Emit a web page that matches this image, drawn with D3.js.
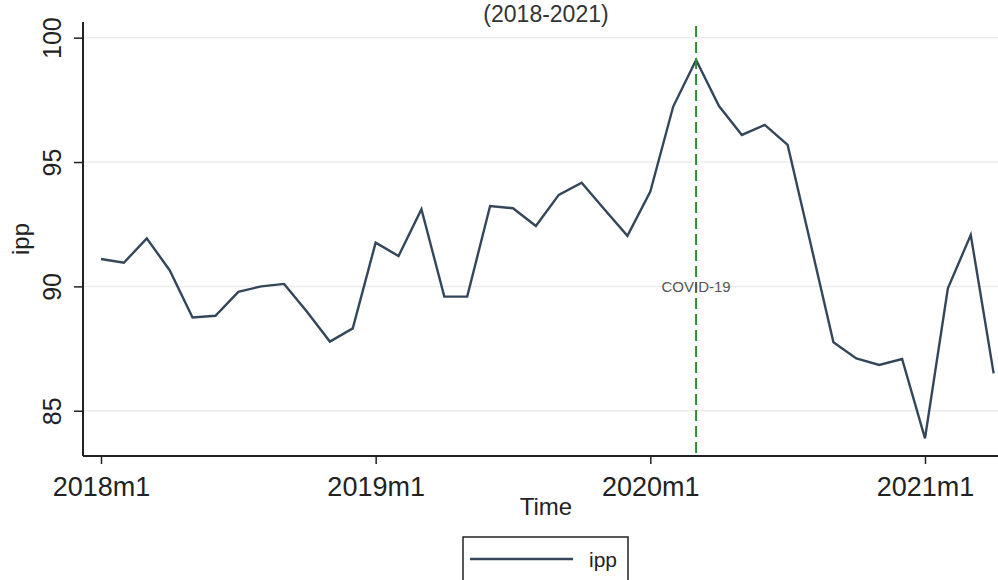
<!DOCTYPE html>
<html>
<head>
<meta charset="utf-8">
<script src="https://cdn.jsdelivr.net/npm/d3@7"></script>
<style>
  html, body { margin: 0; padding: 0; background: #fff; }
  svg { display: block; font-family: Arial, "Liberation Sans", sans-serif; }
</style>
</head>
<body>
<svg id="chart" width="998" height="580"></svg>
<script>
// Monthly industrial production index (ipp), 2018m1 – 2021m4
const ippValues = [
  91.10, 90.95, 91.93, 90.65, 88.75, 88.82, 89.78, 90.00, 90.10, 88.98, 87.78, 88.31,
  91.76, 91.22, 93.10, 89.59, 89.59, 93.23, 93.14, 92.43, 93.68, 94.17, 93.09, 92.03,
  93.81, 97.23, 99.10, 97.25, 96.09, 96.49, 95.69, 91.73, 87.75, 87.10, 86.84, 87.08,
  83.89, 89.92, 92.07, 86.50
];
const yTicks = [85, 90, 95, 100];
const xTickIndex = [0, 12, 24, 36];
const xTickLabels = ["2018m1", "2019m1", "2020m1", "2021m1"];
const eventIndex = 26;            // 2020m3
const eventLabel = "COVID-19";
const eventLabelValue = 90;
const titleText = "(2018-2021)";
const xTitle = "Time";
const yTitle = "ipp";
const seriesName = "ipp";

const svg = d3.select("#chart");
const plot = { left: 83, right: 998, top: 22, bottom: 456 };

// month index -> pixel
const x = d3.scaleLinear().domain([-0.786, 39.19]).range([plot.left, plot.right]);
const y = d3.scaleLinear().domain([83.18, 100.63]).range([plot.bottom, plot.top]);

const lineColor = "#34475a";

// title
svg.append("text")
  .attr("x", 546).attr("y", 22)
  .attr("text-anchor", "middle")
  .attr("font-size", 23).attr("fill", "#333")
  .text(titleText);

// horizontal grid
svg.append("g")
  .selectAll("line")
  .data(yTicks)
  .join("line")
  .attr("x1", plot.left).attr("x2", plot.right)
  .attr("y1", d => y(d)).attr("y2", d => y(d))
  .attr("stroke", "#ececec").attr("stroke-width", 1.5);

// y axis
const yAxis = svg.append("g")
  .attr("transform", `translate(${plot.left},0)`)
  .call(d3.axisLeft(y).tickValues(yTicks).tickSize(9).tickPadding(0).tickFormat(d3.format("d")));
yAxis.select(".domain").attr("d", `M0,${plot.top}V${plot.bottom}`).attr("stroke", "#222").attr("stroke-width", 2);
yAxis.selectAll(".tick line").attr("stroke", "#222").attr("stroke-width", 1.5);
yAxis.selectAll(".tick text")
  .attr("x", null).attr("dy", null)
  .attr("text-anchor", "middle")
  .attr("font-size", 25).attr("fill", "#222")
  .attr("transform", "translate(-22,0) rotate(-90)")
  .attr("y", 0);

// x axis
const xAxis = svg.append("g")
  .attr("transform", `translate(0,${plot.bottom})`)
  .call(d3.axisBottom(x).tickValues(xTickIndex).tickSize(8).tickPadding(13)
    .tickFormat((d, i) => xTickLabels[i]));
xAxis.select(".domain").attr("d", `M${plot.left},0H${plot.right}`).attr("stroke", "#222").attr("stroke-width", 2);
xAxis.selectAll(".tick line").attr("stroke", "#222").attr("stroke-width", 1.5);
xAxis.selectAll(".tick text").attr("font-size", 27).attr("fill", "#222");

// axis titles
svg.append("text")
  .attr("x", 546).attr("y", 515)
  .attr("text-anchor", "middle")
  .attr("font-size", 24).attr("fill", "#222")
  .text(xTitle);
svg.append("text")
  .attr("transform", `translate(29,${(plot.top + plot.bottom) / 2}) rotate(-90)`)
  .attr("text-anchor", "middle")
  .attr("font-size", 24).attr("fill", "#222")
  .text(yTitle);

// series line
const line = d3.line().x((d, i) => x(i)).y(d => y(d));
svg.append("path")
  .datum(ippValues)
  .attr("d", line)
  .attr("fill", "none")
  .attr("stroke", lineColor)
  .attr("stroke-width", 2.4)
  .attr("stroke-linejoin", "miter");

// event marker
svg.append("line")
  .attr("x1", x(eventIndex)).attr("x2", x(eventIndex))
  .attr("y1", plot.top + 4).attr("y2", plot.bottom)
  .attr("stroke", "#2e8b2e").attr("stroke-width", 2)
  .attr("stroke-dasharray", "11,5");
svg.append("text")
  .attr("x", x(eventIndex)).attr("y", y(eventLabelValue))
  .attr("dy", "0.35em")
  .attr("text-anchor", "middle")
  .attr("font-size", 15).attr("fill", "#555")
  .text(eventLabel);

// legend
const lg = svg.append("g");
lg.append("rect")
  .attr("x", 463).attr("y", 537).attr("width", 165).attr("height", 60)
  .attr("fill", "#fff").attr("stroke", "#222").attr("stroke-width", 1.5);
lg.append("line")
  .attr("x1", 470).attr("x2", 573).attr("y1", 559).attr("y2", 559)
  .attr("stroke", lineColor).attr("stroke-width", 2.4);
lg.append("text")
  .attr("x", 589).attr("y", 567)
  .attr("font-size", 21).attr("fill", "#222")
  .text(seriesName);
</script>
</body>
</html>
